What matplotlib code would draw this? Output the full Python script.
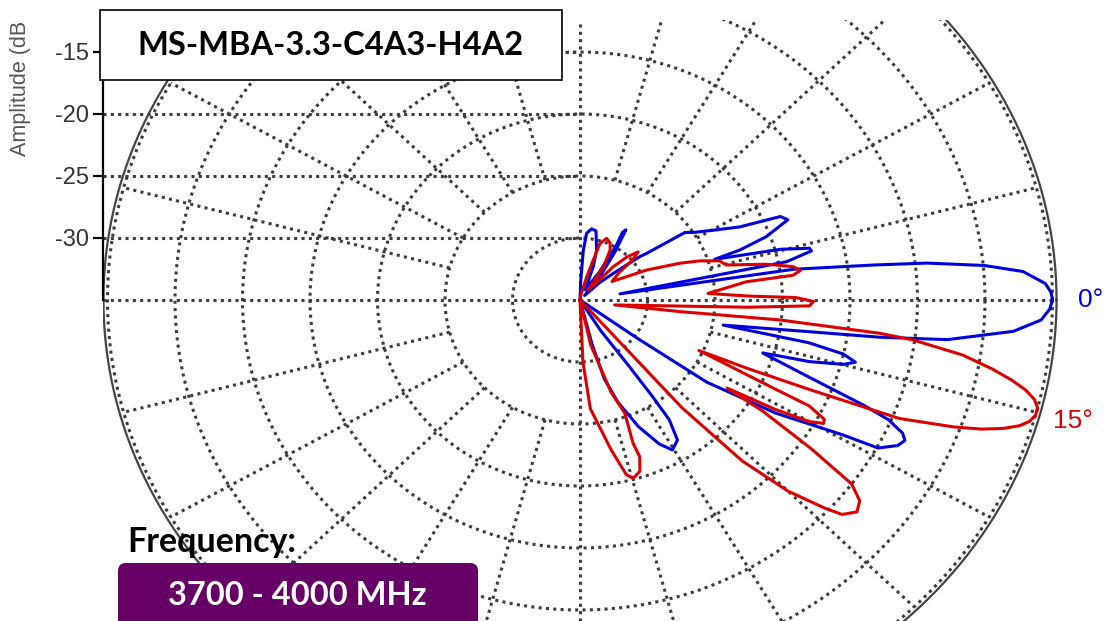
import numpy as np
import matplotlib
matplotlib.use("Agg")
import matplotlib.pyplot as plt
from matplotlib.patches import Rectangle, FancyBboxPatch

plt.rcParams['axes.unicode_minus'] = False
plt.rcParams['font.family'] = 'Liberation Sans'

# elevation pattern, angle (deg) and amplitude (dB)
blue_deg = [90, 88, 86.5, 84.8, 81.5, 78, 73, 70, 65,
            57.5, 58.5, 60, 59, 56.3, 52, 47,
            44, 41, 38.2, 37.3, 35, 33, 29.2, 26.5, 24.4, 22.8, 20.3, 18.8, 18.2,
            15.4, 13.8, 13.0, 11.4, 9.5,
            8.9, 7.4, 6.6, 5.3, 4.0, 2.2, 1.0, 0, -1.2, -2.7, -4.5, -6.7, -7.7, -8.6, -9.5, -10.8,
            -11.5, -12.6, -13.8, -14.9, -16.3, -17.5,
            -17.8, -20.2, -22, -22.9, -24.2, -25.2, -26.5, -28.4, -29.2, -32.2, -35.2, -36, -40,
            -58.2, -55.8, -55.4, -55.6, -57.4, -60.5, -63.2, -67, -71.2, -74.2, -75.9, -80, -90]
blue_db = [-35, -33.5, -31, -29.6, -29.2, -29.3, -30.8, -32.1, -34.1,
           -32.3, -29.9, -28.7, -28.4, -30.3, -32.6, -34.5,
           -33, -31.7, -29.3, -28.8, -25.5, -25, -23.4, -21.8, -18.7, -18.3, -20.3, -22.5, -24.5,
           -19.6, -17.5, -17.4, -19.4, -32,
           -19, -13.1, -9.1, -4.9, -2.1, -0.5, -0.1, 0, -0.2, -0.8, -2.8, -7.6, -12.6, -18, -21.2, -24.2,
           -17.7, -15, -14, -14.8, -17.3, -20.8,
           -20.5, -16.8, -12.3, -10.2, -8.8, -8.4, -8.7, -9.9, -12.7, -17.9, -23.5, -29.7, -35,
           -32.1, -28.7, -25.6, -23.3, -21.6, -21.1, -22, -23.9, -26.3, -28.4, -31.3, -35, -35]

red_deg = [90, 80, 75, 73, 72, 68.3, 64, 61, 57, 53,
           50, 47.4, 45, 42, 39.5, 37.6, 32.2,
           26.1, 21.8, 19.6, 17, 14.6, 11.8, 9.7, 8.3, 7.2, 6.8, 3.2,
           1.5, 0.7, -0.4, -1.6, -2.7, -8.8,
           -7.2, -6.2, -6.9, -7.45, -8.9, -10.3, -11.4, -12.4, -13.4, -14.4, -15.4, -16.4, -17.3,
           -18.3, -19.3, -20.3, -22, -23, -24, -24.8,
           -26.4, -26.7, -28, -28.9, -30, -31.4, -33.1,
           -33.5, -35, -36.4, -38, -39.8, -41.7, -42.8, -45, -47.2, -49, -49, -49,
           -77.7, -72.8, -70, -71.2, -70.7, -72.2, -74.6, -76.3, -79.2, -85, -87.5, -90]
red_db = [-35, -34.5, -33, -31.6, -30.2, -29.65, -29.9, -30.4, -31.8, -34,
          -33.5, -31.35, -30.1, -29.2, -30, -31.3, -32.2,
          -29.5, -27, -25.6, -24.2, -23.8, -20.9, -19, -18.5, -19.1, -22.6, -25.5,
          -22.65, -19, -17.7, -18, -22.6, -32.4,
          -27.5, -20.1, -12.6, -10.1, -6.3, -4.0, -2.4, -1.2, -0.4, 0, 0, -0.3, -0.9,
          -2.0, -3.5, -5.5, -9.5, -16.5, -21.5, -25.3,
          -18.9, -16, -14.5, -14.4, -15.4, -18.1, -22,
          -18.8, -14.1, -10, -8.7, -8.3, -9, -10.3, -13.2, -17.3, -23.5, -28, -35,
          -31.3, -27.2, -25.3, -22.8, -21.6, -20.5, -20.1, -20.5, -22.7, -26.2, -30, -35]

series_colors = ['#0000dd', '#dd0000']
tilt_deg = [0, 15]
tilt_labels = ['0°', '15°']

floor_db = -35
rings_db = [-30, -25, -20, -15, -10, -5, 0]
ytick_db = [-30, -25, -20, -15]


def to_xy(deg, db):
    r = np.clip(np.asarray(db, dtype=float) - floor_db, 0, None)
    t = np.radians(deg)
    return r * np.cos(t), floor_db + r * np.sin(t)


fig = plt.figure(figsize=(11.06, 6.21), dpi=100)
ax = fig.add_axes([103 / 1106, 0, 1003 / 1106, 601 / 621])
ax.set_xlim(-477 / 13.5, 526 / 13.5)
ax.set_ylim(floor_db - 321 / 12.4, floor_db + 280 / 12.4)

grid_kw = dict(color='#3c3c3c', lw=2.2, linestyle=(0, (1.0, 1.4)), zorder=1)
t = np.linspace(0, 360, 721)
for ring in rings_db:
    ax.plot(*to_xy(t, np.full_like(t, ring)), **grid_kw)
for a in range(15, 360, 15):
    if a % 90:
        ax.plot(*to_xy([a, a], [-25, 0]), **grid_kw)
x0, x1 = ax.get_xlim()
y0, y1 = ax.get_ylim()
ax.plot([x0, -floor_db], [floor_db, floor_db], **grid_kw)
ax.plot([0, 0], [y0, y1], **grid_kw)
for yt in ytick_db:
    ax.plot([x0, 0], [yt, yt], **grid_kw)

# outer frame circle
ax.plot(*to_xy(t, np.full_like(t, 0.3)), color='#444444', lw=1.6, zorder=2)

for deg, db, c in zip([blue_deg, red_deg], [blue_db, red_db], series_colors):
    ax.plot(*to_xy(deg, db), color=c, lw=2.2, zorder=3, solid_joinstyle='round')

for tilt, lab, c in zip(tilt_deg, tilt_labels, series_colors):
    lx, ly = to_xy([-tilt], [2.8])
    ax.text(lx[0], ly[0], lab, color=c, fontsize=19, ha='center', va='center')

for s in ['top', 'right', 'bottom']:
    ax.spines[s].set_visible(False)
ax.spines['left'].set_bounds(floor_db, y1)
ax.spines['left'].set_linewidth(1.6)
ax.set_xticks([])
ax.set_yticks(ytick_db)
ax.tick_params(axis='y', direction='out', length=7, width=1.6,
               labelsize=17, labelcolor='#333333', pad=3)
ax.set_ylabel('Amplitude (dB', fontsize=15.5, color='#555555')
ax.yaxis.set_label_coords(-0.072, 0.886)

# title box
tr = fig.dpi_scale_trans
fig.add_artist(Rectangle((1.00, 5.41), 4.62, 0.70, transform=tr,
                         facecolor='white', edgecolor='black', lw=1.2, zorder=5))
fig.text(3.30, 5.66, 'MS-MBA-3.3-C4A3-H4A2', transform=tr, family='Lato',
         weight='bold', fontsize=23.5, ha='center', va='baseline', zorder=6)

# frequency box
fig.text(1.27, 0.693, 'Frequency:', transform=tr, family='Lato',
         weight='bold', fontsize=24.5, ha='left', va='baseline', zorder=6)
fig.add_artist(FancyBboxPatch((1.18, -0.3), 3.60, 0.88, transform=tr,
                              boxstyle='round,pad=0,rounding_size=0.08',
                              facecolor='#660066', edgecolor='none', zorder=5))
fig.text(2.975, 0.16, '3700 - 4000 MHz', transform=tr, family='Lato',
         weight='bold', fontsize=23.5, color='white', ha='center', va='baseline', zorder=6)

fig.savefig('out.png', dpi=100)
